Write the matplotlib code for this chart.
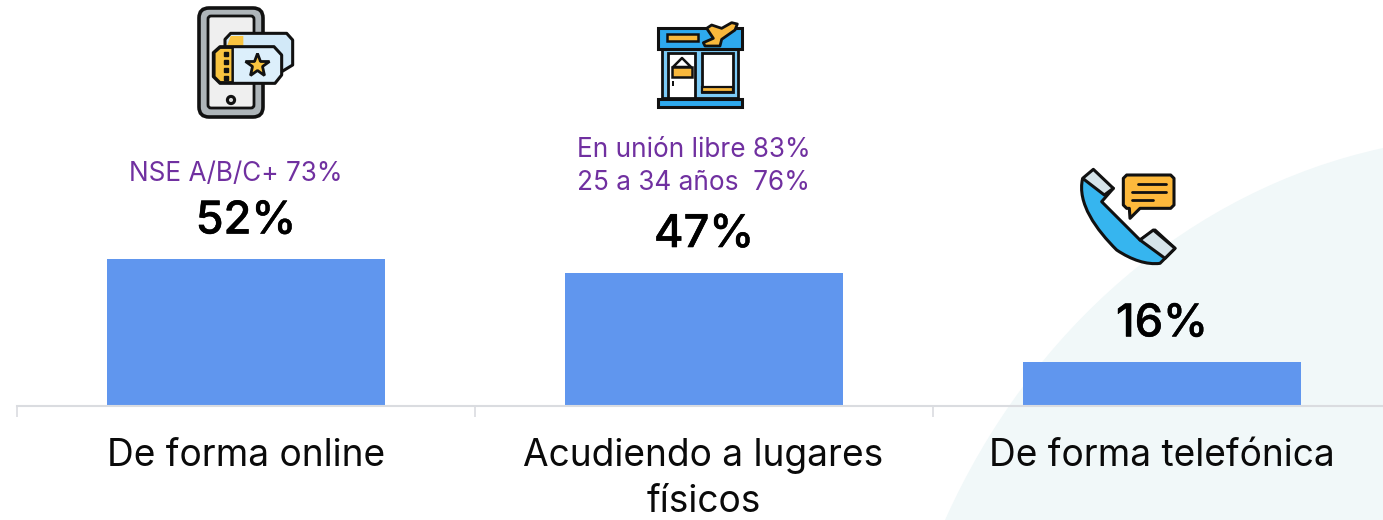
import matplotlib
matplotlib.use("Agg")
import matplotlib.pyplot as plt
from matplotlib.path import Path
from matplotlib.patches import PathPatch, Polygon, Rectangle, FancyBboxPatch, Circle
import matplotlib.patheffects as pe
import numpy as np

categories = ["De forma online", "Acudiendo a lugares\nfísicos", "De forma telefónica"]
values = [52, 47.2, 15.4]
value_labels = ["52%", "47%", "16%"]
notes = ["NSE A/B/C+ 73%", "En unión libre 83%\n25 a 34 años  76%", ""]

W, H = 1383, 520
BAR = "#6096EE"
PURPLE = "#7030A0"
INK = "#0A0A0A"
plt.rcParams["font.family"] = ["Inter", "DejaVu Sans"]

fig = plt.figure(figsize=(W / 100, H / 100), dpi=100, facecolor="white")

# decorative layer in pixel coordinates
bg = fig.add_axes([0, 0, 1, 1], zorder=0)
bg.set_xlim(0, W); bg.set_ylim(H, 0); bg.axis("off")
bg.add_patch(PathPatch(Path(
    [(945, 520), (1030, 330), (1190, 190), (1383, 148), (1383, 520), (945, 520)],
    [Path.MOVETO, Path.CURVE4, Path.CURVE4, Path.CURVE4, Path.LINETO, Path.CLOSEPOLY]),
    fc="#F1F8F9", ec="none"))

# chart
base_y, px_per_unit = 405.6, 2.81
top = base_y - 70 * px_per_unit
ax = fig.add_axes([17 / W, 1 - base_y / H, (1391 - 17) / W, (base_y - top) / H], zorder=1)
ax.patch.set_alpha(0)
x = np.arange(3)
ax.bar(x, values, width=0.605, color=BAR, zorder=2)
ax.set_xlim(-0.5, 2.5); ax.set_ylim(0, 70)
for s in ("top", "left", "right"):
    ax.spines[s].set_visible(False)
ax.spines["bottom"].set_color("#DADCE0"); ax.spines["bottom"].set_linewidth(1.5)
ax.set_yticks([])
ax.set_xticks([-0.5, 0.5, 1.5, 2.5]); ax.set_xticklabels([])
ax.tick_params(axis="x", length=8, width=1.2, color="#DADCE0")
note_off = [52.5, 55.5, 0]
for xi, c, v, vl, n, off in zip(x, categories, values, value_labels, notes, note_off):
    ax.annotate(c, (xi, 0), xytext=(-0.3, -23.6), textcoords="offset points", ha="center", va="top",
                fontsize=26.7, color=INK, linespacing=1.33)
    t = ax.annotate(vl, (xi, v), xytext=(0, 12.2), textcoords="offset points", ha="center", va="bottom",
                    fontsize=32.5, color="black", fontweight="medium")
    t.set_path_effects([pe.withStroke(linewidth=0.35, foreground="black")])
    if n:
        ax.annotate(n, (xi, v), xytext=(-7.4, off), textcoords="offset points",
                    ha="center", va="bottom", fontsize=18.85, color=PURPLE, linespacing=1.32)

# icons
fg = fig.add_axes([0, 0, 1, 1], zorder=2)
fg.set_xlim(0, W); fg.set_ylim(H, 0); fg.axis("off")
K = "#111111"

def rbox(x0, y0, x1, y1, r, fc, lw=2.2, ec=K):
    fg.add_patch(FancyBboxPatch((x0 + r, y0 + r), x1 - x0 - 2 * r, y1 - y0 - 2 * r,
                                boxstyle=f"round,pad={r}", fc=fc, ec=ec, lw=lw))

def poly(pts, fc, lw=2.2, ec=K):
    fg.add_patch(Polygon(pts, closed=True, fc=fc, ec=ec, lw=lw, joinstyle="round"))

def zoomer(ox, oy):
    return lambda pts: [(ox + a / 3, oy + b / 3) for a, b in pts]

# mobile with tickets
A = zoomer(180, 0)
rbox(199, 8, 263, 117, 10, "#AEB5B9", lw=2.6)
rbox(208, 16, 254, 108, 3, "#EFEFEF", lw=2)
fg.add_patch(Circle((231, 100), 3.6, fc="#DDDDDD", ec=K, lw=2.2))
poly(A([(135, 118), (152, 100), (320, 100), (338, 120), (338, 195), (305, 215), (160, 215), (135, 190)]), "#D2E9F8")
poly(A([(140, 140), (152, 108), (190, 108), (190, 140)]), "#F9C440", lw=0)
poly(A([(100, 158), (120, 140), (282, 140), (305, 165), (305, 225), (285, 250), (120, 250), (100, 230)]), "#DCEFFB")
poly(A([(103, 158), (120, 143), (158, 143), (158, 247), (120, 247), (103, 230)]), "#F9C440", lw=1.8)
fg.plot([225.5] * 4, [54, 62, 70, 78], "s", ms=2.2, color=K)
fg.plot([257], [65], "*", ms=18, mfc="#F9C440", mec=K, mew=2)

# travel agency
S = zoomer(640, 10)
fg.add_patch(Rectangle((662, 48), 76, 50, fc="#7CCBF7", ec=K, lw=2))
fg.add_patch(Rectangle((658, 28), 84, 21, fc="#2EA9EE", ec=K, lw=2.2))
fg.add_patch(Rectangle((667, 34), 31, 7, fc="#F9B83C", ec=K, lw=1.8))
fg.add_patch(Rectangle((668, 53), 27, 45, fc="white", ec=K, lw=2))
fg.add_patch(Rectangle((702, 53), 31, 39, fc="white", ec=K, lw=2))
fg.add_patch(Rectangle((702, 87), 31, 5, fc="#F9B83C", ec=K, lw=1.6))
poly([(673, 67), (682, 58), (691, 67)], "white", lw=1.8)
fg.add_patch(Rectangle((672, 67), 20, 10, fc="#F9B83C", ec=K, lw=1.8))
fg.add_patch(Rectangle((672, 81), 2, 5, fc=K, ec="none"))
fg.add_patch(Rectangle((658, 99), 84, 7.5, fc="#2EA9EE", ec=K, lw=2.2))
poly(S([(292, 42), (285, 60), (245, 88), (240, 108), (195, 108), (190, 98), (220, 85), (200, 55),
        (215, 45), (245, 55), (275, 38)]), "#F9B83C", lw=2)

# telephone
T = zoomer(1060, 160)
hs = T([(68, 55), (160, 85), (125, 125), (240, 240), (285, 210), (345, 265), (300, 310),
        (260, 315), (215, 300), (170, 270), (110, 210), (50, 130), (68, 55)])
codes = [Path.MOVETO, Path.LINETO, Path.LINETO, Path.LINETO, Path.LINETO, Path.LINETO, Path.LINETO,
         Path.CURVE4, Path.CURVE4, Path.CURVE4, Path.CURVE4, Path.CURVE4, Path.CURVE4]
fg.add_patch(PathPatch(Path(hs, codes), fc="#36B5EF", ec=K, lw=2.2, joinstyle="round"))
poly(T([(68, 55), (100, 28), (160, 85), (133, 105)]), "#D6E4EA")
poly(T([(240, 240), (280, 210), (345, 265), (315, 295)]), "#D6E4EA")
poly(T([(190, 55), (200, 45), (332, 45), (342, 55), (342, 135), (332, 145), (240, 145), (210, 175),
        (208, 145), (200, 145), (190, 135)]), "#FDB93C")
for a, b, yy in [(235, 318, 72), (215, 318, 95), (215, 278, 120)]:
    fg.plot(*zip(*T([(a, yy), (b, yy)])), color=K, lw=2, solid_capstyle="round")

fig.savefig("out.png", dpi=100, facecolor="white")
